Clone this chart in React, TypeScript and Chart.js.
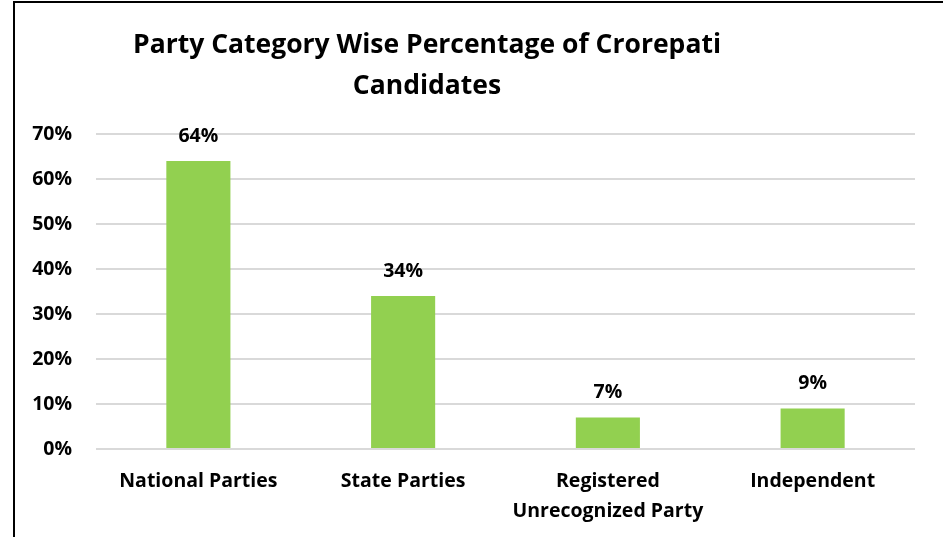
import React, { useEffect, useRef } from "react";
import { Chart, registerables } from "chart.js";

Chart.register(...registerables);

const categories: (string | string[])[] = [
  "National Parties",
  "State Parties",
  ["Registered", "Unrecognized Party"],
  "Independent",
];
const values: number[] = [64, 34, 7, 9];
const titleLines: string[] = ["Party Category Wise Percentage of Crorepati", "Candidates"];
const yMax = 70;
const yStep = 10;

const FONT = "'Open Sans', sans-serif";

const labelPlugin = {
  id: "barLabels",
  afterDatasetsDraw(chart: any) {
    const ctx = chart.ctx;
    const meta = chart.getDatasetMeta(0);
    ctx.save();
    ctx.font = `bold 19.5px ${FONT}`;
    ctx.fillStyle = "#000";
    ctx.textAlign = "center";
    ctx.textBaseline = "middle";
    meta.data.forEach((bar: any, i: number) => {
      ctx.fillText(values[i] + "%", bar.x, bar.y - 25);
    });
    ctx.restore();
  },
};

const titlePlugin = {
  id: "customTitle",
  afterDraw(chart: any) {
    const ctx = chart.ctx;
    ctx.save();
    ctx.font = `bold 26.5px ${FONT}`;
    ctx.fillStyle = "#000";
    ctx.textAlign = "center";
    ctx.textBaseline = "middle";
    ctx.fillText(titleLines[0], 427, 45);
    ctx.fillText(titleLines[1], 427, 86);
    ctx.restore();
  },
};

export default function App() {
  const ref = useRef<HTMLCanvasElement>(null);
  useEffect(() => {
    const chart = new Chart(ref.current!, {
      type: "bar",
      data: {
        labels: categories as any,
        datasets: [
          {
            data: values,
            backgroundColor: "#92D050",
            borderWidth: 0,
            barPercentage: 0.313,
            categoryPercentage: 1,
          },
        ],
      },
      options: {
        animation: false,
        responsive: false,
        maintainAspectRatio: false,
        layout: { padding: { left: 20, right: 28, top: 134, bottom: 0 } },
        plugins: { legend: { display: false }, tooltip: { enabled: false }, title: { display: false } },
        scales: {
          x: {
            grid: { display: false, drawTicks: false },
            border: { display: false },
            ticks: {
              color: "#000",
              font: { family: FONT, size: 19.5, weight: "bold", lineHeight: 1.52 },
              padding: 18,
              maxRotation: 0,
              autoSkip: false,
            },
            afterFit: (s: any) => {
              s.height = 88;
            },
          },
          y: {
            min: 0,
            max: yMax,
            grid: { color: "#d9d9d9", lineWidth: 2, drawTicks: false },
            border: { display: false },
            ticks: {
              stepSize: yStep,
              color: "#000",
              font: { family: FONT, size: 19.5, weight: "bold" },
              padding: 24,
              callback: (v: any) => v + "%",
            },
            afterFit: (s: any) => {
              s.width = 76;
            },
          },
        },
      },
      plugins: [labelPlugin, titlePlugin],
    });
    return () => chart.destroy();
  }, []);
  return (
    <div style={{ position: "fixed", left: 0, top: 0, width: 943, height: 537, background: "#fff" }}>
      <div
        style={{
          position: "absolute",
          left: 13,
          top: 1,
          width: 940,
          height: 546,
          borderLeft: "2px solid #000",
          borderTop: "2px solid #000",
          boxSizing: "border-box",
        }}
      />
      <canvas ref={ref} width={943} height={537} style={{ position: "absolute", left: 0, top: 0 }} />
    </div>
  );
}
